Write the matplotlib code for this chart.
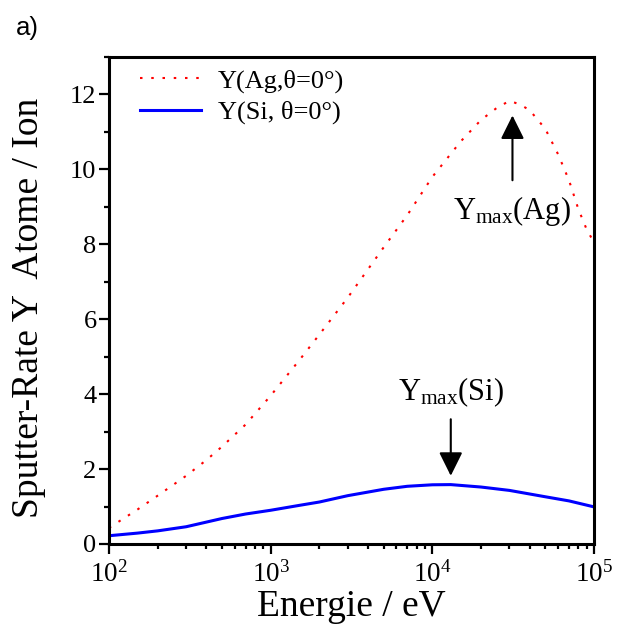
import numpy as np
import matplotlib
matplotlib.use('Agg')
import matplotlib.pyplot as plt
from matplotlib.ticker import LogLocator, MultipleLocator, NullFormatter

plt.rcParams['font.family'] = ['Liberation Serif', 'DejaVu Serif']
plt.rcParams['mathtext.fontset'] = 'custom'
plt.rcParams['mathtext.rm'] = 'Liberation Serif'
plt.rcParams['mathtext.it'] = 'Liberation Serif:italic'
plt.rcParams['mathtext.bf'] = 'Liberation Serif:bold'

# sputter yield of Ag, normal incidence (atoms / ion)
energy_ag = [100, 150, 200, 300, 400, 500, 700, 1000, 1500, 2000, 3000, 5000,
             7000, 10000, 15000, 20000, 25000, 30000, 35000, 40000, 50000,
             60000, 70000, 80000, 90000, 100000]
yield_ag = [0.43, 0.92, 1.29, 1.82, 2.24, 2.60, 3.19, 3.96, 4.90, 5.59, 6.58, 7.92,
            8.78, 9.80, 10.75, 11.32, 11.64, 11.83, 11.73, 11.58, 11.08,
            10.40, 9.71, 8.94, 8.40, 8.05]

# sputter yield of Si, normal incidence
energy_si = [100, 150, 200, 300, 500, 700, 1000, 1500, 2000, 3000, 5000, 7000,
             10000, 13000, 20000, 30000, 50000, 70000, 100000]
yield_si = [0.22, 0.29, 0.35, 0.46, 0.68, 0.80, 0.90, 1.03, 1.12, 1.29, 1.46, 1.54,
            1.58, 1.585, 1.52, 1.43, 1.26, 1.15, 0.99]

# positions of the maxima marked with arrows
ag_peak_e = 31300
si_peak_e = 13000

fig = plt.figure(figsize=(6.18, 6.28), dpi=100)
ax = fig.add_axes([0.1764, 0.1338, 0.7848, 0.7754])

ax.plot(energy_ag, yield_ag, color='#ff0000', lw=1.5, linestyle=(0, (1.2, 4.2)),
        label='Y(Ag,θ=0°)')
ax.plot(energy_si, yield_si, color='#0000ff', lw=2.2, label='Y(Si, θ=0°)')

ax.set_xscale('log')
ax.set_xlim(1e2, 1e5)
ax.set_ylim(0, 13)
ax.xaxis.set_major_locator(LogLocator(base=10, numticks=10))
ax.xaxis.set_minor_locator(LogLocator(base=10, subs=np.arange(2, 10), numticks=20))
ax.xaxis.set_minor_formatter(NullFormatter())
ax.yaxis.set_major_locator(MultipleLocator(2))
ax.yaxis.set_minor_locator(MultipleLocator(1))

for s in ax.spines.values():
    s.set_linewidth(2.2)
ax.tick_params(which='major', direction='out', length=7, width=1.6, top=False, right=False)
ax.tick_params(which='minor', direction='out', length=3.5, width=1.6, top=False, right=False)
ax.tick_params(axis='x', labelsize=19.5, pad=5)
ax.tick_params(axis='y', labelsize=19, pad=2)

ax.set_xlabel('Energie / eV', fontsize=27, labelpad=2)
ax.set_ylabel('Sputter-Rate Y  Atome / Ion', fontsize=27)
ax.yaxis.set_label_coords(-0.13, 0.485)

leg = ax.legend(loc='upper left', bbox_to_anchor=(0.064, 0.975), frameon=False,
                fontsize=19, handlelength=2.3, handletextpad=0.65, labelspacing=0.28,
                borderpad=0, borderaxespad=0)

arrow = dict(arrowstyle='-|>,head_length=1.45,head_width=0.72', mutation_scale=10,
             lw=1.5, color='k', shrinkA=0, shrinkB=0)
ax.annotate('', xy=(ag_peak_e, 11.44), xytext=(ag_peak_e, 9.71), arrowprops=arrow)
ax.text(ag_peak_e, 8.68, r'Y$_{\rm max}$(Ag)', fontsize=22, ha='center', va='baseline')
ax.annotate('', xy=(si_peak_e, 1.82), xytext=(si_peak_e, 3.33), arrowprops=arrow)
ax.text(si_peak_e, 3.84, r'Y$_{\rm max}$(Si)', fontsize=22, ha='center', va='baseline')

fig.text(0.025, 0.955, 'a)', fontsize=18.5, family='Liberation Sans', va='center')

fig.savefig('out.png', dpi=100)
